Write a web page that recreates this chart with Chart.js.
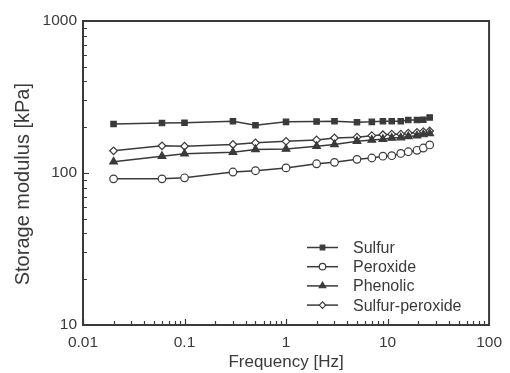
<!DOCTYPE html>
<html>
<head>
<meta charset="utf-8">
<script src="https://cdn.jsdelivr.net/npm/chart.js@4"></script>
<style>
  body { margin: 0; background: #fff; }
</style>
</head>
<body>
<canvas id="chart" width="510" height="373"></canvas>
<script>
// frequency sweep values
const freq = [0.02, 0.06, 0.1, 0.3, 0.5, 1, 2, 3, 5, 7, 9, 11, 13.5, 16, 19.5, 22.5, 26];
const sulfur = [210, 213, 214, 219, 206, 217, 218, 219, 216, 217, 219, 219, 219, 223, 223, 224, 232];
const peroxide = [91.5, 91.5, 93, 101.5, 103.5, 108, 115, 117.5, 123, 125.5, 129, 130, 134.5, 138, 141, 146, 153];
const phenolic = [118.5, 129, 134, 137, 143, 144, 150, 154, 162, 165, 167, 170, 171, 174, 176, 179, 182];
const sulfurPeroxide = [140, 151, 150, 154, 158, 161.5, 165, 170, 172, 176, 178.5, 180, 180, 183, 185, 187, 189];

const xTicks = [0.01, 0.1, 1, 10, 100];
const yTicks = [10, 100, 1000];

const ink = '#3a3a3a';
const font = 'Liberation Sans, Arial, sans-serif';

function series(label, data, style, fill) {
  return {
    label: label,
    data: freq.map((f, i) => ({ x: f, y: data[i] })),
    borderColor: ink,
    borderWidth: 1.5,
    pointStyle: style,
    pointRadius: style === 'triangle' ? 4.4 : 3.8,
    pointBackgroundColor: fill,
    pointBorderColor: ink,
    pointBorderWidth: 1.2,
    tension: 0
  };
}

// inward ticks, box frame and line+marker legend
const framePlugin = {
  id: 'frame',
  afterDraw(chart) {
    const ctx = chart.ctx;
    const a = chart.chartArea;
    const xs = chart.scales.x, ys = chart.scales.y;
    ctx.save();
    ctx.strokeStyle = ink;
    ctx.lineWidth = 1.2;
    ctx.beginPath();
    for (let d = -2; d < 2; d++) {
      for (let m = 1; m < 10; m++) {
        const px = Math.round(xs.getPixelForValue(m * Math.pow(10, d))) + 0.5;
        const len = m === 1 ? 6 : 4;
        ctx.moveTo(px, a.bottom);
        ctx.lineTo(px, a.bottom - len);
      }
    }
    for (let d = 1; d < 3; d++) {
      for (let m = 1; m < 10; m++) {
        const py = Math.round(ys.getPixelForValue(m * Math.pow(10, d))) + 0.5;
        const len = m === 1 ? 6 : 4;
        ctx.moveTo(a.left, py);
        ctx.lineTo(a.left + len, py);
      }
    }
    ctx.stroke();
    ctx.lineWidth = 2;
    ctx.strokeRect(a.left, a.top, a.right - a.left, a.bottom - a.top);

    // legend
    const lx = 307, ly = 247.5, gap = 19.2;
    chart.data.datasets.forEach((ds, i) => {
      const y = ly + i * gap;
      ctx.strokeStyle = ink;
      ctx.lineWidth = 1.5;
      ctx.beginPath();
      ctx.moveTo(lx, y);
      ctx.lineTo(lx + 31, y);
      ctx.stroke();
      ctx.fillStyle = ds.pointBackgroundColor;
      ctx.lineWidth = 1.2;
      Chart.helpers.drawPoint(ctx, {
        pointStyle: ds.pointStyle,
        radius: ds.pointRadius * 0.85,
        borderWidth: 1.2,
        rotation: 0
      }, lx + 15.5, y);
      ctx.fillStyle = ink;
      ctx.font = '16px ' + font;
      ctx.textBaseline = 'middle';
      ctx.textAlign = 'left';
      ctx.fillText(ds.label, lx + 46, y + 1);
    });
    ctx.restore();
  }
};

new Chart(document.getElementById('chart'), {
  type: 'line',
  data: {
    datasets: [
      series('Sulfur', sulfur, 'rect', ink),
      series('Peroxide', peroxide, 'circle', '#ffffff'),
      series('Phenolic', phenolic, 'triangle', ink),
      series('Sulfur-peroxide', sulfurPeroxide, 'rectRot', '#ffffff')
    ]
  },
  options: {
    responsive: false,
    animation: false,
    layout: { padding: { top: 21, right: 14, left: 0, bottom: 0 } },
    plugins: { legend: { display: false }, tooltip: { enabled: false } },
    scales: {
      x: {
        type: 'logarithmic',
        min: 0.01,
        max: 100,
        afterBuildTicks: s => { s.ticks = xTicks.map(v => ({ value: v })); },
        afterFit: s => { s.height = 48; },
        grid: { display: false, drawTicks: false },
        border: { display: false },
        ticks: {
          color: ink,
          font: { family: font, size: 15.5 },
          padding: 8,
          maxRotation: 0,
          autoSkip: false,
          callback: v => String(v)
        },
        title: {
          display: true,
          text: 'Frequency [Hz]',
          color: ink,
          font: { family: font, size: 17 },
          padding: { top: 0, bottom: 0 }
        }
      },
      y: {
        type: 'logarithmic',
        min: 10,
        max: 1000,
        afterBuildTicks: s => { s.ticks = yTicks.map(v => ({ value: v })); },
        afterFit: s => { s.width = 83; },
        grid: { display: false, drawTicks: false },
        border: { display: false },
        ticks: {
          color: ink,
          font: { family: font, size: 15.5 },
          padding: 6,
          autoSkip: false,
          callback: v => String(v)
        },
        title: {
          display: true,
          // trailing spaces nudge the centred label down to where the original sits
          text: 'Storage modulus [kPa]    ',
          color: ink,
          font: { family: font, size: 20 },
          padding: { top: 11, bottom: 0 }
        }
      }
    }
  },
  plugins: [framePlugin]
});
</script>
</body>
</html>
